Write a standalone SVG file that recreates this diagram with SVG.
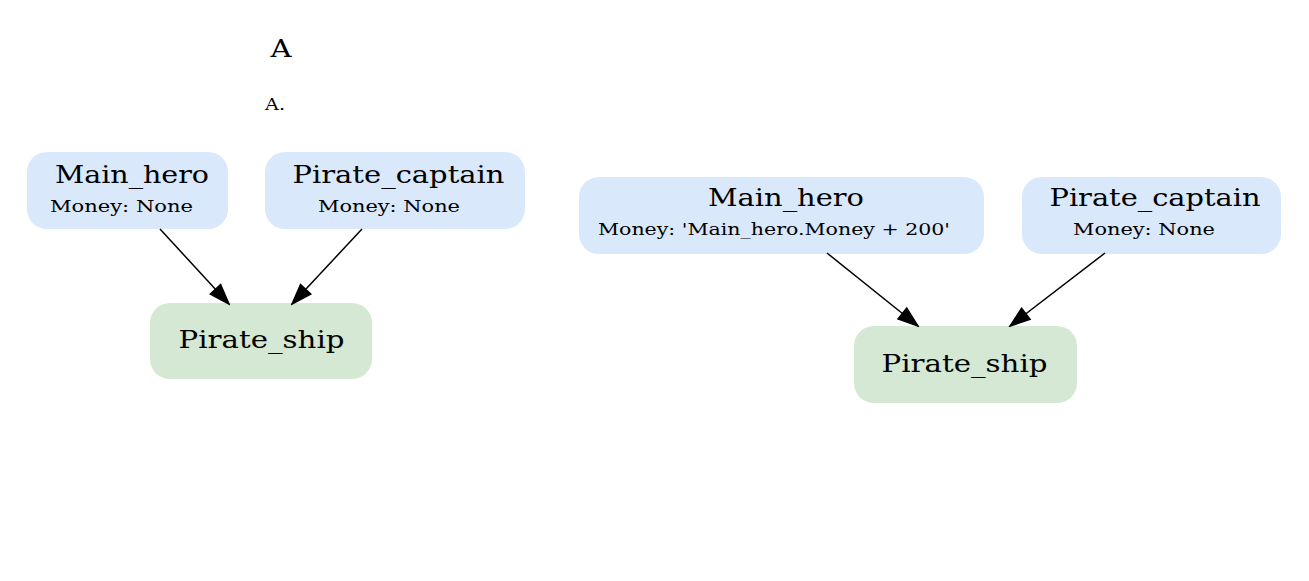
<svg xmlns="http://www.w3.org/2000/svg" width="1309" height="581" viewBox="0 0 1309 581">
<style>
.t{font-family:"DejaVu Serif",serif;fill:#000}
.big{font-size:25px}
.sm{font-size:17px}
.blue{fill:#dae8fc}
.green{fill:#d5e8d4}
.e{stroke:#000;stroke-width:1.5;fill:none}
</style>
<defs>
<marker id="ah" markerUnits="userSpaceOnUse" markerWidth="24" markerHeight="20" viewBox="0 0 24 20" refX="22" refY="10" orient="auto">
<path d="M2,3 L22,10 L2,17 Z" fill="#000" stroke="#000" stroke-width="1.5"/>
</marker>
</defs>
<rect width="1309" height="581" fill="#fff"/>
<g id="clusterA">
<text class="t big" x="281" y="57" text-anchor="middle" textLength="21" lengthAdjust="spacingAndGlyphs">A</text>
<text class="t sm" x="275" y="110" text-anchor="middle" textLength="20" lengthAdjust="spacingAndGlyphs">A.</text>
</g>
<g id="A_Main_hero">
<rect class="blue" x="27" y="152" width="201" height="77" rx="20"/>
<text class="t big" x="132" y="183" text-anchor="middle" textLength="154" lengthAdjust="spacingAndGlyphs">Main_hero</text>
<text class="t sm" x="121.5" y="212" text-anchor="middle" textLength="143" lengthAdjust="spacingAndGlyphs">Money: None</text>
</g>
<g id="A_Pirate_captain">
<rect class="blue" x="265" y="152" width="260" height="77" rx="20"/>
<text class="t big" x="398.5" y="183" text-anchor="middle" textLength="212" lengthAdjust="spacingAndGlyphs">Pirate_captain</text>
<text class="t sm" x="389" y="212" text-anchor="middle" textLength="142" lengthAdjust="spacingAndGlyphs">Money: None</text>
</g>
<g id="A_Pirate_ship">
<rect class="green" x="150" y="303" width="222" height="76" rx="20"/>
<text class="t big" x="261.5" y="348" text-anchor="middle" textLength="166" lengthAdjust="spacingAndGlyphs">Pirate_ship</text>
</g>
<g id="B_Main_hero">
<rect class="blue" x="579" y="177" width="405" height="77" rx="20"/>
<text class="t big" x="786" y="206" text-anchor="middle" textLength="156" lengthAdjust="spacingAndGlyphs">Main_hero</text>
<text class="t sm" x="774" y="235" text-anchor="middle" textLength="352" lengthAdjust="spacingAndGlyphs">Money: 'Main_hero.Money + 200'</text>
</g>
<g id="B_Pirate_captain">
<rect class="blue" x="1022" y="177" width="259" height="77" rx="20"/>
<text class="t big" x="1155" y="206" text-anchor="middle" textLength="211" lengthAdjust="spacingAndGlyphs">Pirate_captain</text>
<text class="t sm" x="1144" y="235" text-anchor="middle" textLength="142" lengthAdjust="spacingAndGlyphs">Money: None</text>
</g>
<g id="B_Pirate_ship">
<rect class="green" x="854" y="326" width="223" height="77" rx="20"/>
<text class="t big" x="964.5" y="372" text-anchor="middle" textLength="166" lengthAdjust="spacingAndGlyphs">Pirate_ship</text>
</g>
<g id="edges">
<line class="e" x1="160" y1="229" x2="229" y2="304" marker-end="url(#ah)"/>
<line class="e" x1="362" y1="229" x2="292" y2="304" marker-end="url(#ah)"/>
<line class="e" x1="827" y1="253" x2="918" y2="326" marker-end="url(#ah)"/>
<line class="e" x1="1105" y1="253" x2="1010" y2="326" marker-end="url(#ah)"/>
</g>
</svg>
